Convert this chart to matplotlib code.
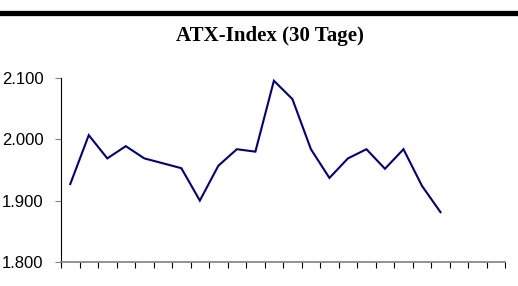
import matplotlib
matplotlib.use("Agg")
import matplotlib.pyplot as plt

# ATX closing values over the last days
days = list(range(1, 25))
atx = [1927, 2007, 1969, 1989, 1969, 1961, 1953, 1900, 1957, 1984, 1980,
       2096, 2066, 1984, 1937, 1969, 1984, 1952, 1984, 1924, 1881]
y_ticks = [1800, 1900, 2000, 2100]
y_labels = ["1.800", "1.900", "2.000", "2.100"]
title = "ATX-Index (30 Tage)"

fig = plt.figure(figsize=(5.18, 2.86), dpi=100)
W, H = 518, 286
ax = fig.add_axes([61 / W, 1 - 261.7 / H, (505.3 - 61) / W, (261.7 - 78.3) / H])

# thick black rule at the top
fig.add_artist(plt.Line2D([0, 1], [1 - 12.5 / H] * 2, color="black",
                          linewidth=3.8, transform=fig.transFigure))
fig.text(270 / W, 1 - 36.5 / H, title, ha="center", va="center",
         fontsize=15, fontweight="bold", family="Liberation Serif")

x = [i + 0.5 for i in range(len(atx))]
ax.plot(x, atx, color="#000080", linewidth=1.5, solid_joinstyle="miter")

ax.set_xlim(0, len(days))
ax.set_xticks(range(len(days) + 1))
ax.set_xticklabels([])
ax.set_ylim(1800, 2100)
ax.set_yticks(y_ticks)
ax.set_yticklabels(y_labels, family="Liberation Sans", fontsize=12)

for side in ("top", "right"):
    ax.spines[side].set_visible(False)
ax.spines["left"].set_color("black")
ax.spines["left"].set_linewidth(0.8)
ax.spines["bottom"].set_color("#808080")
ax.spines["bottom"].set_linewidth(1.2)
ax.tick_params(axis="y", length=4.5, width=0.8, color="#808080", pad=8)
ax.tick_params(axis="x", length=4, width=0.8, color="black")

fig.savefig("out.png", dpi=100)
